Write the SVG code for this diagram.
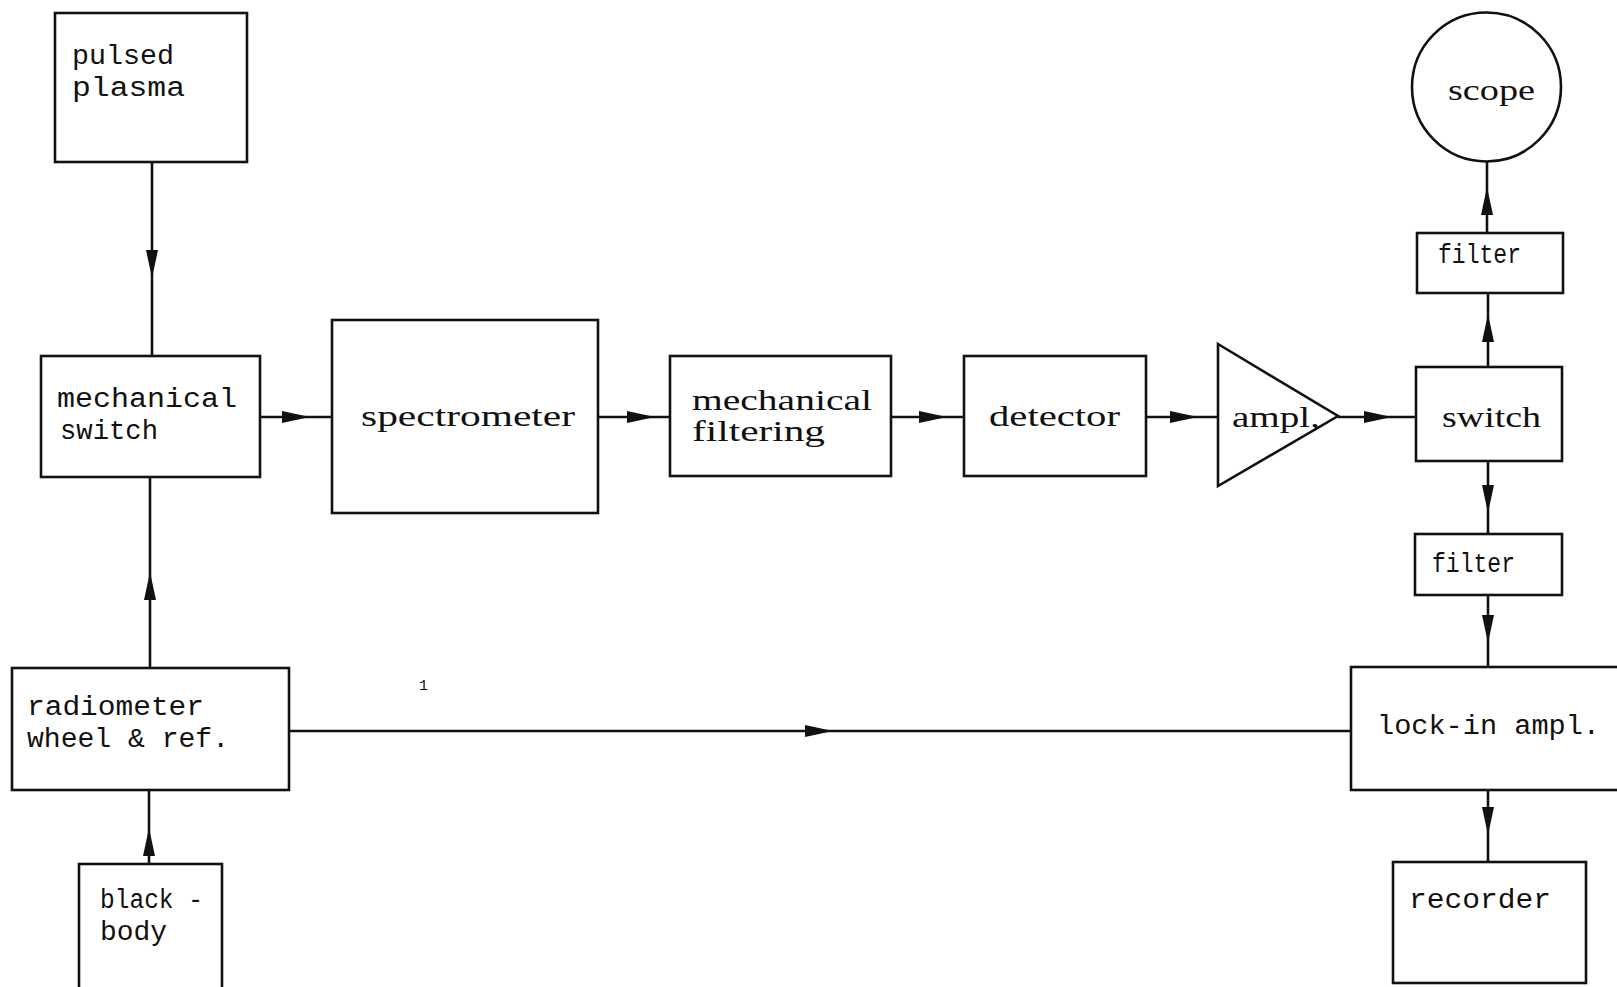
<svg xmlns="http://www.w3.org/2000/svg" xmlns:xlink="http://www.w3.org/1999/xlink" width="1617" height="987" viewBox="0 0 1617 987">
<style>
.box{fill:none;stroke:#111;stroke-width:2.6}
.ln{fill:none;stroke:#111;stroke-width:2.6}
.tw{font-family:"Liberation Mono","DejaVu Sans Mono",monospace;font-size:27px;fill:#111}
.sf{font-family:"Liberation Serif","DejaVu Serif",serif;font-size:30px;fill:#111}
.ah{fill:#111}
</style>
<defs>
<path id="ah" d="M0,0 L-28,-6 L-28,6 Z"/>
</defs>
<rect width="1617" height="987" fill="#fff"/>
<g id="connectors">
<line class="ln" x1="152" y1="162" x2="152" y2="356"/>
<line class="ln" x1="260" y1="417" x2="332" y2="417"/>
<line class="ln" x1="598" y1="417" x2="670" y2="417"/>
<line class="ln" x1="891" y1="417" x2="964" y2="417"/>
<line class="ln" x1="1146" y1="417" x2="1218" y2="417"/>
<line class="ln" x1="1338" y1="417" x2="1416" y2="417"/>
<line class="ln" x1="1488" y1="367" x2="1488" y2="293"/>
<line class="ln" x1="1487" y1="233" x2="1487" y2="162"/>
<line class="ln" x1="1488" y1="461" x2="1488" y2="534"/>
<line class="ln" x1="1488" y1="595" x2="1488" y2="667"/>
<line class="ln" x1="1488" y1="790" x2="1488" y2="863"/>
<line class="ln" x1="290" y1="731" x2="1351" y2="731"/>
<line class="ln" x1="150" y1="667" x2="150" y2="477"/>
<line class="ln" x1="149" y1="863" x2="149" y2="790"/>
<use xlink:href="#ah" class="ah" transform="translate(152,278) rotate(90)"/>
<use xlink:href="#ah" class="ah" transform="translate(310,417)"/>
<use xlink:href="#ah" class="ah" transform="translate(655,417)"/>
<use xlink:href="#ah" class="ah" transform="translate(947,417)"/>
<use xlink:href="#ah" class="ah" transform="translate(1198,417)"/>
<use xlink:href="#ah" class="ah" transform="translate(1392,417)"/>
<use xlink:href="#ah" class="ah" transform="translate(1488,314) rotate(-90)"/>
<use xlink:href="#ah" class="ah" transform="translate(1487,187) rotate(-90)"/>
<use xlink:href="#ah" class="ah" transform="translate(1488,513) rotate(90)"/>
<use xlink:href="#ah" class="ah" transform="translate(1488,643) rotate(90)"/>
<use xlink:href="#ah" class="ah" transform="translate(1488,835) rotate(90)"/>
<use xlink:href="#ah" class="ah" transform="translate(833,731)"/>
<use xlink:href="#ah" class="ah" transform="translate(150,572) rotate(-90)"/>
<use xlink:href="#ah" class="ah" transform="translate(149,828) rotate(-90)"/>
</g>
<g id="pulsed-plasma">
<rect class="box" x="55" y="13" width="192" height="149"/>
<text class="tw" x="72" y="64" textLength="102" lengthAdjust="spacingAndGlyphs">pulsed</text>
<text class="tw" x="72" y="96" textLength="113" lengthAdjust="spacingAndGlyphs">plasma</text>
</g>
<g id="mechanical-switch">
<rect class="box" x="41" y="356" width="219" height="121"/>
<text class="tw" x="57" y="407" textLength="180" lengthAdjust="spacingAndGlyphs">mechanical</text>
<text class="tw" x="60" y="439" textLength="98" lengthAdjust="spacingAndGlyphs">switch</text>
</g>
<g id="spectrometer">
<rect class="box" x="332" y="320" width="266" height="193"/>
<text class="sf" x="361" y="426" textLength="214" lengthAdjust="spacingAndGlyphs">spectrometer</text>
</g>
<g id="mechanical-filtering">
<rect class="box" x="670" y="356" width="221" height="120"/>
<text class="sf" x="692" y="410" textLength="180" lengthAdjust="spacingAndGlyphs">mechanical</text>
<text class="sf" x="692" y="441" textLength="133" lengthAdjust="spacingAndGlyphs">filtering</text>
</g>
<g id="detector">
<rect class="box" x="964" y="356" width="182" height="120"/>
<text class="sf" x="989" y="426" textLength="131" lengthAdjust="spacingAndGlyphs">detector</text>
</g>
<g id="ampl">
<polygon class="box" points="1218,344 1338,416 1218,486"/>
<text class="sf" x="1232" y="427" textLength="88" lengthAdjust="spacingAndGlyphs">ampl,</text>
</g>
<g id="switch">
<rect class="box" x="1416" y="367" width="146" height="94"/>
<text class="sf" x="1442" y="427" textLength="99" lengthAdjust="spacingAndGlyphs">switch</text>
</g>
<g id="filter-top">
<rect class="box" x="1417" y="233" width="146" height="60"/>
<text class="tw" x="1438" y="263" textLength="83" lengthAdjust="spacingAndGlyphs">filter</text>
</g>
<g id="scope">
<circle class="box" cx="1486.5" cy="87" r="74.5"/>
<text class="sf" x="1448" y="100" textLength="87" lengthAdjust="spacingAndGlyphs">scope</text>
</g>
<g id="filter-bottom">
<rect class="box" x="1415" y="534" width="147" height="61"/>
<text class="tw" x="1432" y="572" textLength="83" lengthAdjust="spacingAndGlyphs">filter</text>
</g>
<g id="lock-in-ampl">
<rect class="box" x="1351" y="667" width="290" height="123"/>
<text class="tw" x="1377" y="734" textLength="223" lengthAdjust="spacingAndGlyphs">lock-in ampl.</text>
</g>
<g id="recorder">
<rect class="box" x="1393" y="862" width="193" height="121"/>
<text class="tw" x="1409" y="908" textLength="142" lengthAdjust="spacingAndGlyphs">recorder</text>
</g>
<g id="radiometer">
<rect class="box" x="12" y="668" width="277" height="122"/>
<text class="tw" x="27" y="715" textLength="177" lengthAdjust="spacingAndGlyphs">radiometer</text>
<text class="tw" x="27" y="747" textLength="202" lengthAdjust="spacingAndGlyphs">wheel &amp; ref.</text>
</g>
<g id="black-body">
<rect class="box" x="79" y="864" width="143" height="140"/>
<text class="tw" x="100" y="908" textLength="103" lengthAdjust="spacingAndGlyphs">black -</text>
<text class="tw" x="100" y="940" textLength="67" lengthAdjust="spacingAndGlyphs">body</text>
</g>
<text class="tw" x="419" y="690" style="font-size:15px">1</text>
</svg>
